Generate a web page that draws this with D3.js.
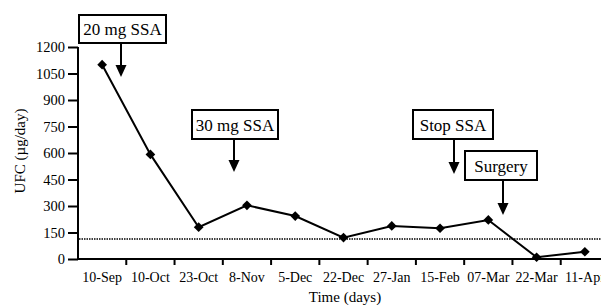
<!DOCTYPE html>
<html lang="en">
<head>
    <meta charset="UTF-8">
    <title>UFC over time</title>
    <style>
        body { margin: 0; background: #fff; font-family: 'Liberation Serif'; }
        svg { display: block; }
    </style>
</head>
<body>
    <svg id="chart" width="601" height="305"></svg>

    <script src="https://d3js.org/d3.v7.min.js"></script>
    <script>
        const dates = ['10-Sep', '10-Oct', '23-Oct', '8-Nov', '5-Dec', '22-Dec', '27-Jan', '15-Feb', '07-Mar', '22-Mar', '11-Apr'];
        const ufc = [1100, 592, 180, 304, 243, 121, 187, 174, 221, 10, 41];
        const yTicks = [0, 150, 300, 450, 600, 750, 900, 1050, 1200];
        const normalLimit = 113;
        const eventLabels = ['20 mg SSA', '30 mg SSA', 'Stop SSA', 'Surgery'];

        const FONT = 'Liberation Serif';
        const svg = d3.select('#chart');
        const x = d3.scaleBand().domain(dates).range([78, 609]);
        const y = d3.scaleLinear().domain([0, 1200]).range([259, 47]);

        // y axis
        const yAxis = svg.append('g')
            .attr('transform', 'translate(78,0)')
            .call(d3.axisLeft(y).tickValues(yTicks).tickSize(10).tickPadding(3).tickFormat(d3.format('d')));
        yAxis.attr('font-family', FONT);
        yAxis.selectAll('text').attr('font-size', 14.5).attr('fill', '#000');
        yAxis.selectAll('line').attr('stroke', '#000').attr('stroke-width', 2);
        yAxis.select('.domain').attr('stroke', '#000').attr('stroke-width', 2).attr('d', 'M0,260V47');

        // x axis: ticks sit on band boundaries, labels in band centres
        const xAxis = svg.append('g').attr('transform', 'translate(0,259)');
        xAxis.append('line').attr('x1', 77).attr('x2', 609).attr('stroke', '#000').attr('stroke-width', 2);
        xAxis.selectAll('.tick')
            .data(dates.slice(1))
            .join('line')
            .attr('x1', d => x(d)).attr('x2', d => x(d))
            .attr('y1', 0).attr('y2', 6)
            .attr('stroke', '#000').attr('stroke-width', 2);
        xAxis.selectAll('.lbl')
            .data(dates)
            .join('text')
            .attr('x', d => x(d) + x.bandwidth() / 2)
            .attr('y', 23)
            .attr('text-anchor', 'middle')
            .attr('font-family', FONT)
            .attr('font-size', 14)
            .text(d => d);

        // axis titles
        svg.append('text')
            .attr('transform', 'translate(25,151) rotate(-90)')
            .attr('text-anchor', 'middle')
            .attr('font-family', FONT)
            .attr('font-size', 15)
            .text('UFC (µg/day)');
        svg.append('text')
            .attr('x', 345).attr('y', 302)
            .attr('text-anchor', 'middle')
            .attr('font-family', FONT)
            .attr('font-size', 15)
            .text('Time (days)');

        // normal limit
        svg.append('line')
            .attr('x1', 79).attr('x2', 601)
            .attr('y1', y(normalLimit)).attr('y2', y(normalLimit))
            .attr('stroke', '#000').attr('stroke-width', 1.5)
            .attr('stroke-dasharray', '1.5,1');

        // series
        const cx = d => x(d) + x.bandwidth() / 2;
        const line = d3.line().x((d, i) => cx(dates[i])).y(d => y(d));
        svg.append('path')
            .datum(ufc)
            .attr('d', line)
            .attr('fill', 'none')
            .attr('stroke', '#000')
            .attr('stroke-width', 2);
        svg.selectAll('.pt')
            .data(ufc)
            .join('path')
            .attr('d', d3.symbol(d3.symbolDiamond2, 60))
            .attr('transform', (d, i) => `translate(${cx(dates[i])},${y(d)})`)
            .attr('fill', '#000');

        // annotation boxes with arrows
        const boxes = [
            { x0: 79, y0: 15, w: 87, h: 28, ax: 121, tip: 77 },
            { x0: 192, y0: 110, w: 86, h: 29, ax: 234, tip: 172 },
            { x0: 413, y0: 110, w: 80, h: 29, ax: 454, tip: 174 },
            { x0: 465, y0: 151, w: 72, h: 29, ax: 503, tip: 215 }
        ];
        const ann = svg.selectAll('.ann')
            .data(eventLabels)
            .join('g');
        ann.append('rect')
            .attr('x', (d, i) => boxes[i].x0).attr('y', (d, i) => boxes[i].y0)
            .attr('width', (d, i) => boxes[i].w).attr('height', (d, i) => boxes[i].h)
            .attr('fill', '#fff').attr('stroke', '#000').attr('stroke-width', 2);
        ann.append('text')
            .attr('x', (d, i) => boxes[i].x0 + boxes[i].w / 2)
            .attr('y', (d, i) => boxes[i].y0 + boxes[i].h / 2 + 6)
            .attr('text-anchor', 'middle')
            .attr('font-family', FONT)
            .attr('font-size', 17)
            .text(d => d);
        ann.append('line')
            .attr('x1', (d, i) => boxes[i].ax).attr('x2', (d, i) => boxes[i].ax)
            .attr('y1', (d, i) => boxes[i].y0 + boxes[i].h)
            .attr('y2', (d, i) => boxes[i].tip - 8)
            .attr('stroke', '#000').attr('stroke-width', 2);
        ann.append('path')
            .attr('d', (d, i) => {
                const b = boxes[i];
                return `M${b.ax - 5.5},${b.tip - 12}L${b.ax + 5.5},${b.tip - 12}L${b.ax},${b.tip}Z`;
            })
            .attr('fill', '#000');
    </script>
</body>
</html>
